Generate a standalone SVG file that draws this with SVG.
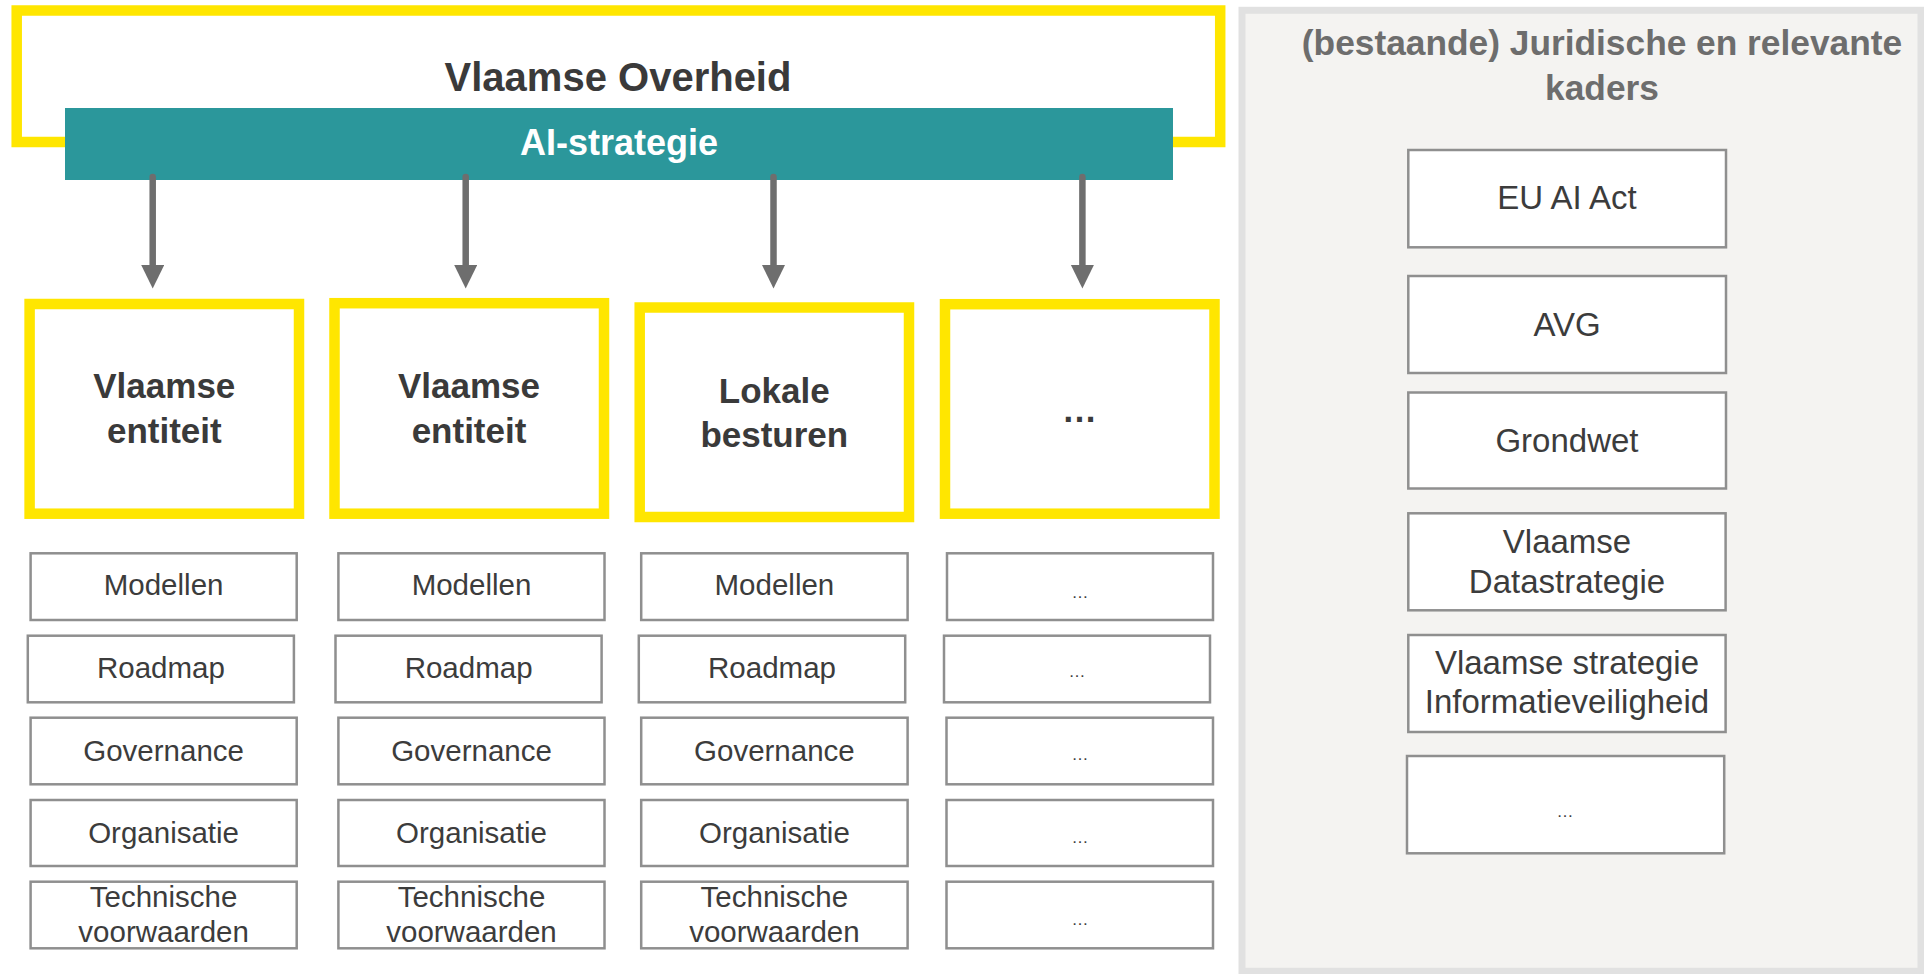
<svg xmlns="http://www.w3.org/2000/svg" width="1924" height="974" viewBox="0 0 1924 974">
<style>
.yb{fill:#fff;stroke:#FFE600;stroke-width:10.5}
.sb{fill:#fff;stroke:#8f8f8f;stroke-width:2.5}
.t1{font-family:"Liberation Sans",Arial,sans-serif;font-weight:bold;fill:#3a3a3a;text-anchor:middle}
.ent{font-family:"Liberation Sans",Arial,sans-serif;font-weight:bold;font-size:35px;fill:#3a3a3a;text-anchor:middle}
.st{font-family:"Liberation Sans",Arial,sans-serif;font-size:29.5px;fill:#3c3c3c;text-anchor:middle}
.dt{font-family:"Liberation Sans",Arial,sans-serif;font-size:17px;fill:#3c3c3c;text-anchor:middle}
.rt{font-family:"Liberation Sans",Arial,sans-serif;font-size:33px;fill:#3c3c3c;text-anchor:middle}
.conn{stroke:#6e6e6e;stroke-width:6.5;fill:none;marker-end:url(#ah)}
</style>
<defs>
<marker id="ah" markerUnits="userSpaceOnUse" markerWidth="24" markerHeight="24" viewBox="0 0 24 24" refX="0" refY="11.5" orient="auto">
<path d="M0,0 L23.5,11.5 L0,23 z" fill="#6e6e6e"/>
</marker>
</defs>
<rect width="1924" height="974" fill="#fff"/>

<g id="juridisch-panel">
<rect x="1242" y="10.3" width="679" height="961" fill="#f4f3f1" stroke="#e1e1e1" stroke-width="7"/>
<text class="t1" x="1602" y="55" font-size="35.3" style="fill:#6d6d6d">(bestaande) Juridische en relevante</text>
<text class="t1" x="1602" y="100" font-size="35.3" style="fill:#6d6d6d">kaders</text>
</g>
<g id="eu-ai-act"><rect class="sb" x="1408.3" y="150" width="317.7" height="97.3"/><text class="rt" x="1567" y="209">EU AI Act</text></g>
<g id="avg"><rect class="sb" x="1408.3" y="276" width="317.7" height="97"/><text class="rt" x="1567" y="336">AVG</text></g>
<g id="grondwet"><rect class="sb" x="1408.3" y="392.5" width="317.7" height="96"/><text class="rt" x="1567" y="452">Grondwet</text></g>
<g id="datastrategie"><rect class="sb" x="1408.3" y="513.3" width="317.3" height="97"/><text class="rt" x="1567" y="552.7">Vlaamse</text><text class="rt" x="1567" y="592.7">Datastrategie</text></g>
<g id="infoveiligheid"><rect class="sb" x="1408.3" y="635" width="317.3" height="97"/><text class="rt" x="1567" y="674.3">Vlaamse strategie</text><text class="rt" x="1567" y="713.3">Informatieveiligheid</text></g>
<g id="kader-more"><rect class="sb" x="1407" y="756" width="317.2" height="97.3"/><text class="dt" x="1565" y="817">…</text></g>

<g id="vlaamse-overheid">
<rect class="yb" x="16.7" y="10.5" width="1203.5" height="131.5"/>
<text class="t1" x="618" y="90.7" font-size="40">Vlaamse Overheid</text>
</g>
<g id="ai-strategie">
<rect x="65" y="108" width="1108" height="72" fill="#2b979b"/>
<text class="t1" x="619" y="155" font-size="36" style="fill:#ffffff">AI-strategie</text>
</g>

<g id="connectors">
<line class="conn" x1="152.7" y1="177" x2="152.7" y2="265" stroke-linecap="round"/>
<line class="conn" x1="465.7" y1="177" x2="465.7" y2="265" stroke-linecap="round"/>
<line class="conn" x1="773.5" y1="177" x2="773.5" y2="265" stroke-linecap="round"/>
<line class="conn" x1="1082.4" y1="177" x2="1082.4" y2="265" stroke-linecap="round"/>
</g>

<g id="entiteit-1"><rect class="yb" x="29.6" y="304" width="269.4" height="209.7"/><text class="ent" x="164.3" y="398.3">Vlaamse</text><text class="ent" x="164.3" y="443.3">entiteit</text></g>
<g id="entiteit-2"><rect class="yb" x="334.5" y="303.2" width="269.5" height="210.5"/><text class="ent" x="469" y="398.3">Vlaamse</text><text class="ent" x="469" y="443.3">entiteit</text></g>
<g id="lokale-besturen"><rect class="yb" x="639.7" y="307.5" width="269.3" height="209.5"/><text class="ent" x="774.3" y="402.7">Lokale</text><text class="ent" x="774.3" y="447.3">besturen</text></g>
<g id="entiteit-more"><rect class="yb" x="945" y="304.2" width="269.5" height="209.5"/><text class="ent" x="1079.5" y="422">…</text></g>

<g id="col1-modellen"><rect class="sb" x="30.6" y="553.3" width="266.1" height="66.7"/><text class="st" x="163.6" y="595">Modellen</text></g>
<g id="col1-roadmap"><rect class="sb" x="27.8" y="635.7" width="266.1" height="66.6"/><text class="st" x="160.9" y="677.5">Roadmap</text></g>
<g id="col1-governance"><rect class="sb" x="30.6" y="717.7" width="266.1" height="66.6"/><text class="st" x="163.6" y="761">Governance</text></g>
<g id="col1-organisatie"><rect class="sb" x="30.6" y="800" width="266.1" height="66"/><text class="st" x="163.6" y="842.7">Organisatie</text></g>
<g id="col1-technische"><rect class="sb" x="30.6" y="881.7" width="266.1" height="66.6"/><text class="st" x="163.6" y="906.7">Technische</text><text class="st" x="163.6" y="941.7">voorwaarden</text></g>

<g id="col2-modellen"><rect class="sb" x="338.4" y="553.3" width="266.1" height="66.7"/><text class="st" x="471.5" y="595">Modellen</text></g>
<g id="col2-roadmap"><rect class="sb" x="335.5" y="635.7" width="266.1" height="66.6"/><text class="st" x="468.6" y="677.5">Roadmap</text></g>
<g id="col2-governance"><rect class="sb" x="338.4" y="717.7" width="266.1" height="66.6"/><text class="st" x="471.5" y="761">Governance</text></g>
<g id="col2-organisatie"><rect class="sb" x="338.4" y="800" width="266.1" height="66"/><text class="st" x="471.5" y="842.7">Organisatie</text></g>
<g id="col2-technische"><rect class="sb" x="338.4" y="881.7" width="266.1" height="66.6"/><text class="st" x="471.5" y="906.7">Technische</text><text class="st" x="471.5" y="941.7">voorwaarden</text></g>

<g id="col3-modellen"><rect class="sb" x="641.2" y="553.3" width="266.4" height="66.7"/><text class="st" x="774.4" y="595">Modellen</text></g>
<g id="col3-roadmap"><rect class="sb" x="638.8" y="635.7" width="266.4" height="66.6"/><text class="st" x="772" y="677.5">Roadmap</text></g>
<g id="col3-governance"><rect class="sb" x="641.2" y="717.7" width="266.4" height="66.6"/><text class="st" x="774.4" y="761">Governance</text></g>
<g id="col3-organisatie"><rect class="sb" x="641.2" y="800" width="266.4" height="66"/><text class="st" x="774.4" y="842.7">Organisatie</text></g>
<g id="col3-technische"><rect class="sb" x="641.2" y="881.7" width="266.4" height="66.6"/><text class="st" x="774.4" y="906.7">Technische</text><text class="st" x="774.4" y="941.7">voorwaarden</text></g>

<g id="col4-row1"><rect class="sb" x="947" y="553.3" width="266" height="66.7"/><text class="dt" x="1080" y="598.3">…</text></g>
<g id="col4-row2"><rect class="sb" x="944" y="635.7" width="266" height="66.6"/><text class="dt" x="1077" y="677">…</text></g>
<g id="col4-row3"><rect class="sb" x="946.5" y="717.7" width="266.5" height="66.6"/><text class="dt" x="1080" y="760">…</text></g>
<g id="col4-row4"><rect class="sb" x="946.5" y="800" width="266.5" height="66"/><text class="dt" x="1080" y="842.7">…</text></g>
<g id="col4-row5"><rect class="sb" x="946.5" y="881.7" width="266.5" height="66.6"/><text class="dt" x="1080" y="925">…</text></g>
</svg>
